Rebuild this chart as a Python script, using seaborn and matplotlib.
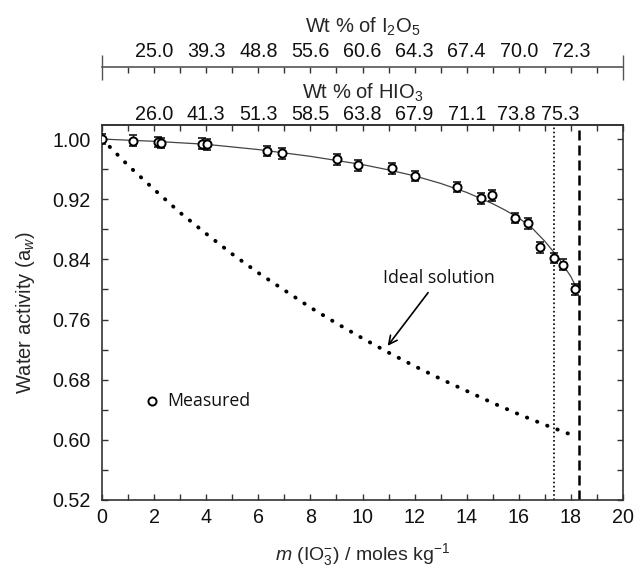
import matplotlib
matplotlib.use("Agg")
import numpy as np
import matplotlib.pyplot as plt
import matplotlib.ticker as mticker
import seaborn as sns

# -----------------------------------------------------------
# Data
# -----------------------------------------------------------
# measured water activity vs molality of IO3-
m_meas = [0.0, 1.20, 2.15, 2.25, 3.83, 4.02, 6.32, 6.90, 9.03, 9.81, 11.12,
          12.02, 13.62, 14.54, 14.96, 15.85, 16.37, 16.81, 17.35, 17.68, 18.16]
aw_meas = [1.000, 0.998, 0.996, 0.995, 0.994, 0.993, 0.984, 0.981, 0.973, 0.965, 0.961,
           0.951, 0.936, 0.921, 0.925, 0.895, 0.888, 0.856, 0.842, 0.833, 0.800]
aw_err = [0.007] * len(m_meas)

# smooth fit through the measurements
m_fit = [0, 2, 4, 6, 8, 10, 11, 12, 13, 14, 15, 15.5, 16, 16.5, 17, 17.5, 18, 18.2]
aw_fit = [1.000, 0.997, 0.993, 0.986, 0.977, 0.966, 0.959, 0.951, 0.941, 0.929,
          0.914, 0.905, 0.895, 0.882, 0.864, 0.843, 0.817, 0.803]

# ideal solution curve
m_ideal = [0, 1, 2, 3, 4, 5, 6, 7, 8, 9, 10, 11, 12, 13, 14, 15, 16, 17, 18, 18.2]
aw_ideal = [1.000, 0.965, 0.933, 0.902, 0.874, 0.847, 0.822, 0.799, 0.776, 0.755,
            0.735, 0.716, 0.698, 0.681, 0.665, 0.649, 0.634, 0.620, 0.607, 0.604]

# vertical reference lines
m_dotted = 17.35
m_dashed = 18.32

# top axes labels
hio3_pos = [2, 4, 6, 8, 10, 12, 14, 15.9, 17.6]
hio3_labels = ["26.0", "41.3", "51.3", "58.5", "63.8", "67.9", "71.1", "73.8", "75.3"]
i2o5_pos = [2, 4, 6, 8, 10, 12, 14, 16, 18]
i2o5_labels = ["25.0", "39.3", "48.8", "55.6", "60.6", "64.3", "67.4", "70.0", "72.3"]

# -----------------------------------------------------------
# Style
# -----------------------------------------------------------
sns.set_theme(style="ticks")
plt.rcParams["font.family"] = ["Liberation Sans", "DejaVu Sans"]
plt.rcParams["mathtext.fontset"] = "custom"
plt.rcParams["mathtext.rm"] = "Liberation Sans"
plt.rcParams["mathtext.it"] = "Liberation Sans:italic"
plt.rcParams["axes.edgecolor"] = "#333333"
plt.rcParams["axes.linewidth"] = 1.2
plt.rcParams["text.color"] = "#111111"
plt.rcParams["xtick.color"] = "#333333"
plt.rcParams["ytick.color"] = "#333333"
plt.rcParams["xtick.labelcolor"] = "#111111"
plt.rcParams["ytick.labelcolor"] = "#111111"

TICK_FS = 14.2

fig, ax = plt.subplots(figsize=(6.38, 5.72), dpi=100)
fig.subplots_adjust(left=0.1599, right=0.9765, bottom=0.1259, top=0.7815)

# -----------------------------------------------------------
# Curves
# -----------------------------------------------------------
sns.lineplot(x=m_ideal, y=aw_ideal, ax=ax, color="black", lw=2.8,
             linestyle=(0, (0.1, 2.7)), dash_capstyle="round", sort=False)
sns.lineplot(x=m_fit, y=aw_fit, ax=ax, color="#444444", lw=0.9, sort=False)

ax.errorbar(m_meas, aw_meas, yerr=aw_err, fmt="none", ecolor="black",
            elinewidth=1.0, capsize=3.2, capthick=1.1, zorder=3)
sns.scatterplot(x=m_meas, y=aw_meas, ax=ax, marker="o", s=34, facecolor="white",
                edgecolor="black", linewidth=1.4, zorder=4, label="Measured")

ax.axvline(m_dotted, color="black", lw=1.2, linestyle=(0, (1, 1.5)))
ax.axvline(m_dashed, color="black", lw=1.8, linestyle=(0, (4, 2)))

# -----------------------------------------------------------
# Axes
# -----------------------------------------------------------
ax.set_xlim(0, 20)
ax.set_ylim(0.52, 1.0187)
ax.xaxis.set_major_locator(mticker.MultipleLocator(2))
ax.xaxis.set_minor_locator(mticker.MultipleLocator(1))
ax.set_yticks(np.arange(0.52, 1.001, 0.08))
ax.yaxis.set_minor_locator(mticker.MultipleLocator(0.04))
ax.yaxis.set_major_formatter(mticker.FormatStrFormatter("%.2f"))
ax.tick_params(which="both", direction="in", top=True, right=True,
               length=4, width=1.0, labelsize=TICK_FS)
ax.tick_params(axis="y", pad=8)
ax.tick_params(axis="x", pad=6)

ax.set_xlabel("$m$ (IO$_3^{-}$) / moles kg$^{-1}$", fontsize=14, labelpad=10)
ax.set_ylabel("Water activity (a$_w$)", fontsize=14.5, labelpad=11)

# HIO3 axis on the top spine
ax_h = ax.secondary_xaxis("top")
ax_h.set_xticks(hio3_pos, hio3_labels)
ax_h.tick_params(length=0, pad=1, labelsize=TICK_FS)
ax_h.set_xlabel("Wt % of HIO$_3$", fontsize=14.5, labelpad=4)

# I2O5 axis floating above
loc = (500 - 67) / 375
ax_i = ax.secondary_xaxis(loc)
ax_i.set_xticks(i2o5_pos, i2o5_labels)
ax_i.set_xticks(np.arange(1, 20, 2), minor=True)
ax_i.tick_params(which="both", direction="in", length=4, width=1.0, pad=4, labelsize=TICK_FS)
ax_i.spines["top"].set_color("#555555")
ax_i.set_xlabel("Wt % of I$_2$O$_5$", fontsize=14.5, labelpad=7)

ax_c = ax.secondary_xaxis(loc)
ax_c.set_xticks([0, 20], ["", ""])
ax_c.tick_params(direction="inout", length=18, width=1.0, color="#555555")
ax_c.spines["top"].set_visible(False)

# -----------------------------------------------------------
# Annotation + legend
# -----------------------------------------------------------
ax.annotate("Ideal solution", xy=(10.9, 0.722), xytext=(12.94, 0.815),
            ha="center", va="center", fontfamily="Open Sans", fontsize=12.8,
            arrowprops=dict(arrowstyle="->", color="black", lw=1.2, mutation_scale=15))

ax.legend(loc="center left", bbox_to_anchor=(0.078, 0.264), frameon=False,
          handletextpad=0.4, borderaxespad=0, borderpad=0, handlelength=1,
          prop={"family": "Open Sans", "size": 12.8})

plt.savefig("out.png", dpi=100)
plt.close()
